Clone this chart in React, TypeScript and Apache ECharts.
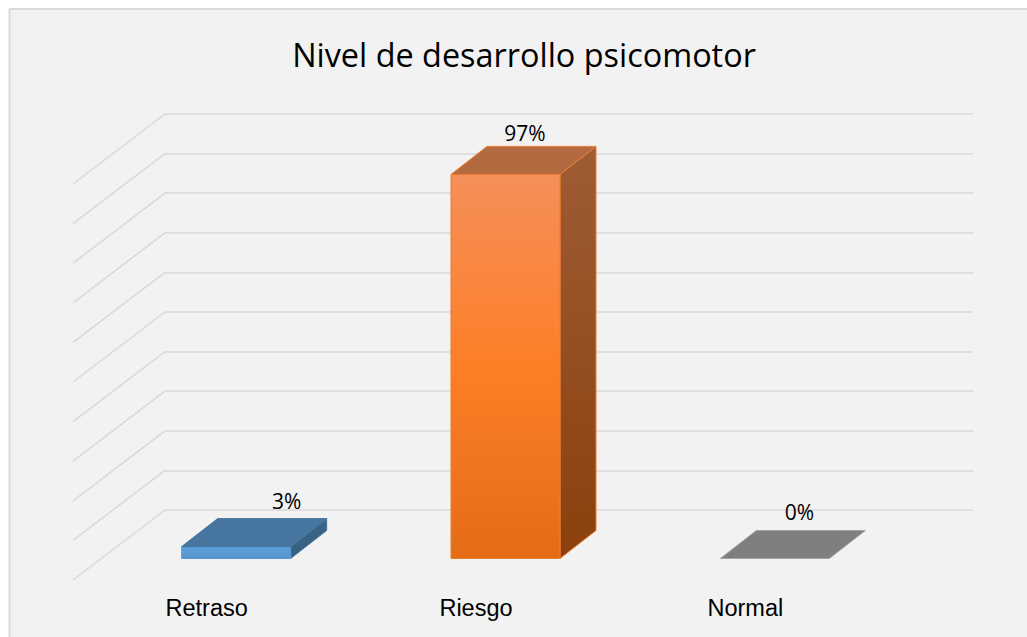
import React, { useEffect, useRef } from "react";
import * as echarts from "echarts";

const titleText = "Nivel de desarrollo psicomotor";
const categories = ["Retraso", "Riesgo", "Normal"];
const values = [3, 97, 0];
const gridValues = [0, 10, 20, 30, 40, 50, 60, 70, 80, 90, 100];

const frontStops = [
  ["#5fa0da", "#5b9bd5", "#5693cb"],
  ["#f58f5a", "#fd7f27", "#e46c16"],
  ["#a5a5a5", "#a5a5a5", "#a5a5a5"],
];
const topColors = ["#46769f", "#b46a40", "#7f7f7f"];
const sideStops = [
  ["#3b6486", "#376183"],
  ["#9e5c36", "#8b400c"],
  ["#6f6f6f", "#6f6f6f"],
];
const edgeColors = ["#5b9bd5", "#ed7d31", "#a5a5a5"];
const upperEdgeColors = ["#46769f", "#ed7d31", "#a5a5a5"];
const labelShift = [
  [105, 46],
  [74, 41],
  [79, 47],
];

const BAR_DX = -118;
const BAR_DY = 48.5;
const BAR_W = 109;
const DEPTH_X = 36;
const DEPTH_Y = -28;
const WALL_DX = -92;
const WALL_DY = 70;
const LINE = "#d9d9d9";

function renderWall(_: any, api: any) {
  const p = api.coord([0, api.value(0)]);
  const left = p[0] - (api.size([1, 0])[0] as number) / 2;
  return {
    type: "line",
    shape: { x1: left, y1: p[1], x2: left + WALL_DX, y2: p[1] + WALL_DY },
    style: { stroke: LINE, lineWidth: 1.5 },
  };
}

function renderBar(params: any, api: any) {
  const i = params.dataIndex;
  const base = api.coord([i, 0]);
  const top = api.coord([i, api.value(1)]);
  const x0 = base[0] + BAR_DX;
  const x1 = x0 + BAR_W;
  const yb = base[1] + BAR_DY;
  const yt = top[1] + BAR_DY;
  const fs = frontStops[i];
  const ss = sideStops[i];
  const children: any[] = [];
  if (yb - yt > 0.5) {
    children.push({
      type: "polygon",
      shape: { points: [[x1, yt], [x1 + DEPTH_X, yt + DEPTH_Y], [x1 + DEPTH_X, yb + DEPTH_Y], [x1, yb]] },
      style: {
        stroke: upperEdgeColors[i],
        lineWidth: 1,
        lineJoin: "round",
        fill: new echarts.graphic.LinearGradient(0, 0, 0, 1, [
          { offset: 0, color: ss[0] },
          { offset: 1, color: ss[1] },
        ]),
      },
    });
    children.push({
      type: "rect",
      shape: { x: x0, y: yt, width: BAR_W, height: yb - yt },
      style: {
        stroke: edgeColors[i],
        lineWidth: 1,
        fill: new echarts.graphic.LinearGradient(0, 0, 0, 1, [
          { offset: 0, color: fs[0] },
          { offset: 0.5, color: fs[1] },
          { offset: 1, color: fs[2] },
        ]),
      },
    });
  }
  children.push({
    type: "polygon",
    shape: { points: [[x0, yt], [x0 + DEPTH_X, yt + DEPTH_Y], [x1 + DEPTH_X, yt + DEPTH_Y], [x1, yt]] },
    style: { stroke: upperEdgeColors[i], lineWidth: 1, lineJoin: "round", fill: topColors[i] },
  });
  children.push({
    type: "text",
    x: x0 + labelShift[i][0],
    y: yt - labelShift[i][1],
    style: {
      text: `${values[i]}%`,
      fontFamily: "Open Sans",
      fontSize: 21,
      fill: "#000",
      align: "center",
      verticalAlign: "middle",
    },
  });
  return { type: "group", children };
}

export default function App() {
  const ref = useRef<HTMLDivElement>(null);
  useEffect(() => {
    document.body.style.margin = "0";
    const chart = echarts.init(ref.current!, null, { renderer: "svg" });
    chart.setOption({
      animation: false,
      backgroundColor: "#ffffff",
      title: {
        text: titleText,
        left: 519,
        top: 33,
        textAlign: "center",
        textStyle: { fontFamily: "Open Sans", fontSize: 32.4, fontWeight: "normal", color: "#000" },
      },
      graphic: [
        { type: "rect", z: -10, shape: { x: 9, y: 8, width: 1018, height: 629 }, style: { fill: "#f2f2f2" } },
        { type: "line", z: -9, shape: { x1: 9.5, y1: 9, x2: 9.5, y2: 637 }, style: { stroke: LINE, lineWidth: 2 } },
        { type: "line", z: -9, shape: { x1: 9, y1: 9, x2: 1027, y2: 9 }, style: { stroke: LINE, lineWidth: 2 } },
      ],
      grid: { left: 165, top: 114, width: 808, height: 396 },
      xAxis: {
        type: "category",
        data: categories,
        axisLine: { show: false },
        axisTick: { show: false },
        splitLine: { show: false },
        axisLabel: {
          color: "#000",
          fontFamily: "Liberation Sans",
          fontSize: 23.5,
          margin: 86,
          padding: [0, 186, 0, 0],
        },
      },
      yAxis: {
        type: "value",
        min: 0,
        max: 100,
        interval: 10,
        axisLine: { show: false },
        axisTick: { show: false },
        axisLabel: { show: false },
        splitLine: { lineStyle: { color: LINE, width: 1.5 } },
      },
      series: [
        {
          type: "custom",
          name: "wall",
          coordinateSystem: "cartesian2d",
          data: gridValues.map((v) => [v]),
          encode: { y: 0 },
          renderItem: renderWall,
          silent: true,
          clip: false,
          z: 1,
        },
        {
          type: "custom",
          name: "Nivel",
          coordinateSystem: "cartesian2d",
          data: values.map((v, i) => [i, v]),
          encode: { x: 0, y: 1 },
          renderItem: renderBar,
          clip: false,
          z: 2,
        },
      ],
    });
    return () => chart.dispose();
  }, []);
  return <div ref={ref} style={{ width: 1027, height: 637 }} />;
}
